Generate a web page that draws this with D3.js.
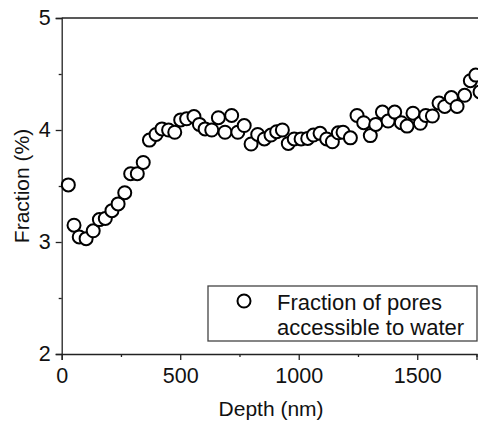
<!DOCTYPE html>
<html>
<head>
<meta charset="utf-8">
<script src="https://cdn.jsdelivr.net/npm/d3@7"></script>
<style>
  body { margin: 0; background: #fff; }
  svg text { font-family: "Liberation Sans", Arial, sans-serif; fill: #111; }
</style>
</head>
<body>
<div id="chart-area"></div>
<script>
// depth (nm) and fraction (%)
const depth = [28, 52, 74, 103, 133, 159, 184, 212, 238, 266, 291, 319, 344, 370, 398, 423, 451, 477,
  502, 527, 558, 581, 605, 633, 661, 689, 717, 743, 770, 799, 827, 855, 883, 907, 931, 956, 981,
  1010, 1038, 1062, 1090, 1118, 1142, 1167, 1187, 1218, 1246, 1274, 1302, 1325, 1353, 1377, 1405,
  1433, 1457, 1482, 1513, 1536, 1564, 1592, 1616, 1644, 1668, 1700, 1724, 1747, 1765];
const fraction = [3.51, 3.15, 3.045, 3.03, 3.10, 3.20, 3.21, 3.28, 3.34, 3.44, 3.61, 3.61, 3.71, 3.91,
  3.96, 4.01, 4.00, 3.98, 4.09, 4.10, 4.12, 4.05, 4.01, 4.00, 4.11, 3.98, 4.13, 3.98, 4.04, 3.875,
  3.96, 3.92, 3.955, 3.985, 4.00, 3.88, 3.92, 3.92, 3.925, 3.955, 3.97, 3.92, 3.895, 3.975, 3.98,
  3.93, 4.13, 4.065, 3.95, 4.05, 4.16, 4.08, 4.16, 4.065, 4.035, 4.15, 4.06, 4.13, 4.125, 4.24,
  4.21, 4.29, 4.21, 4.31, 4.44, 4.49, 4.34];

const xMajor = [0, 500, 1000, 1500];
const xMinor = [250, 750, 1250, 1750];
const yMajor = [2, 3, 4, 5];
const yMinor = [2.5, 3.5, 4.5];
const legendLines = ['Fraction of pores', 'accessible to water'];

const W = 478, H = 424;
const plotL = 61.7, plotR = 476.5, plotT = 18, plotB = 354;

const svg = d3.select('#chart-area').append('svg')
  .attr('width', W)
  .attr('height', H);

const x = d3.scaleLinear().domain([0, 1750]).range([plotL, plotR]);
const y = d3.scaleLinear().domain([2, 5]).range([plotB, plotT]);

const axisColor = '#222';

// x axis, major + minor ticks
const xAxisG = svg.append('g').attr('transform', 'translate(0,' + plotB + ')');
xAxisG.call(d3.axisBottom(x).tickValues(xMajor).tickSize(6).tickPadding(8).tickFormat(d3.format('d')));
const xMinorG = svg.append('g').attr('transform', 'translate(0,' + plotB + ')');
xMinorG.call(d3.axisBottom(x).tickValues(xMinor).tickSize(3).tickFormat(''));
xMinorG.select('.domain').remove();

// y axis
const yAxisG = svg.append('g').attr('transform', 'translate(' + plotL + ',0)');
yAxisG.call(d3.axisLeft(y).tickValues(yMajor).tickSize(6).tickPadding(5).tickFormat(d3.format('d')));
const yMinorG = svg.append('g').attr('transform', 'translate(' + plotL + ',0)');
yMinorG.call(d3.axisLeft(y).tickValues(yMinor).tickSize(3).tickFormat(''));
yMinorG.select('.domain').remove();

svg.selectAll('.domain, .tick line')
  .attr('stroke', axisColor)
  .attr('stroke-width', 1.3);
svg.selectAll('.tick text')
  .attr('font-size', '21.5px')
  .attr('font-family', '"Liberation Sans", Arial, sans-serif')
  .attr('fill', '#111');

// top frame line (no right one)
svg.append('line')
  .attr('x1', plotL).attr('x2', W)
  .attr('y1', plotT).attr('y2', plotT)
  .attr('stroke', axisColor)
  .attr('stroke-width', 1.3);

// axis labels
svg.append('text')
  .attr('x', (plotL + plotR) / 2 + 2)
  .attr('y', 416)
  .attr('text-anchor', 'middle')
  .attr('font-size', '21px')
  .text('Depth (nm)');

svg.append('text')
  .attr('transform', 'translate(29,' + ((plotT + plotB) / 2) + ') rotate(-90)')
  .attr('text-anchor', 'middle')
  .attr('font-size', '21px')
  .text('Fraction (%)');

// points
svg.append('g').selectAll('circle')
  .data(depth.map((d, i) => ({ d: d, f: fraction[i] })))
  .enter().append('circle')
  .attr('cx', p => x(p.d))
  .attr('cy', p => y(p.f))
  .attr('r', 6.5)
  .attr('fill', '#fff')
  .attr('stroke', '#000')
  .attr('stroke-width', 2);

// legend
const lg = svg.append('g');
lg.append('rect')
  .attr('x', 208).attr('y', 286)
  .attr('width', 269).attr('height', 55)
  .attr('fill', '#fff')
  .attr('stroke', '#444')
  .attr('stroke-width', 1.3);
lg.append('circle')
  .attr('cx', 244).attr('cy', 301)
  .attr('r', 6.5)
  .attr('fill', '#fff')
  .attr('stroke', '#000')
  .attr('stroke-width', 2);
lg.selectAll('text.leg')
  .data(legendLines)
  .enter().append('text')
  .attr('class', 'leg')
  .attr('x', 277)
  .attr('y', (d, i) => 309.5 + i * 25.5)
  .attr('font-size', '22px')
  .text(d => d);
</script>
</body>
</html>
